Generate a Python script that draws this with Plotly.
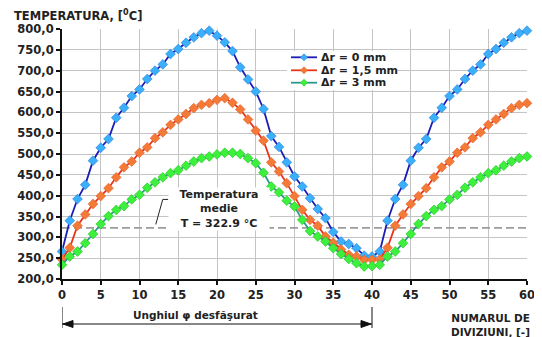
import plotly.graph_objects as go

divisions = list(range(0, 61))

rise_0 = [266, 340, 392, 426, 484, 515, 536, 587, 611, 639, 655, 680, 700, 715, 740, 752, 767, 780, 790, 796]
fall_0 = [784, 768, 747, 708, 679, 650, 608, 543, 517, 480, 446, 422, 394, 368, 346, 313, 290, 284, 274, 256, 254]
temp_0mm = rise_0 + fall_0 + rise_0

rise_15 = [247, 275, 328, 355, 380, 399, 418, 444, 468, 482, 503, 516, 538, 552, 570, 583, 596, 610, 618, 622]
fall_15 = [630, 634, 623, 607, 583, 556, 532, 480, 458, 430, 399, 366, 342, 328, 302, 287, 271, 258, 254, 246, 246]
temp_15mm = rise_15 + fall_15 + rise_15

rise_3 = [234, 254, 266, 286, 308, 332, 351, 366, 375, 391, 402, 419, 432, 444, 454, 461, 472, 482, 490, 494]
fall_3 = [499, 503, 503, 500, 490, 478, 455, 422, 408, 388, 374, 342, 315, 302, 290, 274, 260, 248, 238, 230, 231]
temp_3mm = rise_3 + fall_3 + rise_3

series_names = ["\u0394r = 0 mm", "\u0394r = 1,5 mm", "\u0394r = 3 mm"]
mean_temp = 322.9
mean_x = [0, 60]
x_ticks = list(range(0, 61, 5))
y_ticks = list(range(200, 801, 50))

FONT = "DejaVu Sans"
TXT = "#222222"

# plot area in pixels (page body has an 8px margin, so the figure is shifted by 8px)
PW, PH = 465, 250
ML, MT, MR, MB = 54, 21, 16, 58


def px_x(x):  # reference-page x pixel -> paper x
    return (x - 62) / PW


def px_y(y):  # reference-page y pixel -> paper y
    return (279 - y) / PH


fig = go.Figure()

# mean temperature dashed line
fig.add_trace(go.Scatter(
    x=mean_x, y=[mean_temp, mean_temp], mode="lines",
    line=dict(color="#9c9c9c", width=1.8, dash="8px,4px"),
    showlegend=False, hoverinfo="skip"))

styles = [
    ("#1c1cb4", "#3ab0fa", "#2a7ad8"),
    ("#e8341c", "#f47a38", "#e0602a"),
    ("#2a9a8c", "#3cf03c", "#22c022"),
]
for name, vals, (lc, mc, mlc) in zip(series_names, [temp_0mm, temp_15mm, temp_3mm], styles):
    fig.add_trace(go.Scatter(
        x=divisions, y=vals, name=name, mode="lines+markers",
        line=dict(color=lc, width=1.8),
        marker=dict(symbol="diamond", size=7.5, color=mc, line=dict(color=mlc, width=0.6)),
        cliponaxis=False, showlegend=False))

fig.update_layout(
    width=PW + ML + MR, height=PH + MT + MB,
    margin=dict(l=ML, r=MR, t=MT, b=MB, autoexpand=False),
    paper_bgcolor="white", plot_bgcolor="white",
    separators=",.",
    font=dict(family=FONT, size=11, color=TXT, weight="bold"),
    showlegend=False,
    xaxis=dict(range=[0, 60], tickvals=x_ticks, showgrid=True, gridcolor="#c4c4c4", gridwidth=1,
               showline=True, linecolor="#111111", linewidth=2, ticks="outside", ticklen=4,
               tickcolor="#111111", tickwidth=2, ticklabeloverflow="allow",
               tickfont=dict(family=FONT, size=11.5, color=TXT, weight="bold"),
               zeroline=False, fixedrange=True, automargin=False),
    yaxis=dict(range=[200, 800], tickvals=y_ticks, tickformat=".1f", showgrid=True,
               gridcolor="#c4c4c4", gridwidth=1,
               showline=True, linecolor="#111111", linewidth=2, ticks="outside", ticklen=4,
               tickcolor="#111111", tickwidth=2, ticklabeloverflow="allow",
               tickfont=dict(family=FONT, size=11.5, color=TXT, weight="bold"),
               zeroline=False, fixedrange=True, automargin=False),
)

annotations = []
shapes = []

# y-axis title
annotations.append(dict(xref="paper", yref="paper", x=px_x(12), y=px_y(16), xanchor="left", yanchor="middle",
                        text="TEMPERATURA, [<sup>0</sup>C]", showarrow=False,
                        font=dict(family=FONT, size=11.5, color=TXT, weight="bold")))

# legend (drawn by hand to match compact row spacing)
legend_rows = [57.3, 70.3, 82.7]
shapes.append(dict(type="rect", xref="paper", yref="paper", x0=px_x(287), x1=px_x(396),
                   y0=px_y(90), y1=px_y(51), fillcolor="white", line=dict(width=0), layer="above"))
for name, (lc, mc, mlc), ry in zip(series_names, styles, legend_rows):
    shapes.append(dict(type="line", xref="paper", yref="paper", x0=px_x(291), x1=px_x(317),
                       y0=px_y(ry), y1=px_y(ry), line=dict(color=lc, width=1.8), layer="above"))
    shapes.append(dict(type="path", xref="paper", yref="paper", xsizemode="pixel", ysizemode="pixel",
                       xanchor=px_x(304), yanchor=px_y(ry),
                       path="M 0 3.5 L 3.5 0 L 0 -3.5 L -3.5 0 Z",
                       fillcolor=mc, line=dict(color=mlc, width=0.6), layer="above"))
    annotations.append(dict(xref="paper", yref="paper", x=px_x(319), y=px_y(ry), xanchor="left",
                            yanchor="middle", text=name, showarrow=False,
                            font=dict(family=FONT, size=11, color=TXT, weight="bold")))

# mean temperature label
annotations.append(dict(xref="x", yref="y", x=20.2, y=368, xanchor="center", yanchor="middle",
                        text="Temperatura<br>medie<br>T = 322.9 \u00b0C", showarrow=False,
                        bgcolor="white", width=100, borderpad=0, align="center",
                        font=dict(family=FONT, size=11, color=TXT, weight="bold")))
shapes.append(dict(type="path", xref="x", yref="y", path="M 12.1 331 L 13.0 391 L 13.7 391",
                   line=dict(color=TXT, width=1)))

# x-axis title
annotations.append(dict(xref="paper", yref="paper", x=px_x(532), y=px_y(325), xanchor="right", yanchor="middle",
                        text="NUMARUL DE<br>DIVIZIUNI, [-]", showarrow=False, align="right",
                        font=dict(family=FONT, size=10.5, color=TXT, weight="bold")))

# bracket label
annotations.append(dict(xref="x", yref="paper", x=17.2, y=px_y(315), xanchor="center", yanchor="middle",
                        text="Unghiul \u03c6 desf\u0103\u015furat", showarrow=False,
                        font=dict(family=FONT, size=10.5, color=TXT, weight="bold")))

# bracket with arrows spanning divisions 0..40
arrow_y = px_y(324)
shapes += [
    dict(type="line", xref="x", yref="paper", x0=0, x1=0, y0=px_y(307), y1=px_y(328),
         line=dict(color="#111111", width=1)),
    dict(type="line", xref="x", yref="paper", x0=40, x1=40, y0=px_y(307), y1=px_y(328),
         line=dict(color="#111111", width=1)),
    dict(type="line", xref="x", yref="paper", x0=0, x1=40, y0=arrow_y, y1=arrow_y,
         line=dict(color="#111111", width=1)),
    dict(type="path", xref="x", yref="paper", xsizemode="pixel", ysizemode="pixel",
         xanchor=0, yanchor=arrow_y, path="M 1 0 L 11 3.5 L 11 -3.5 Z",
         fillcolor="#111111", line=dict(color="#111111", width=1)),
    dict(type="path", xref="x", yref="paper", xsizemode="pixel", ysizemode="pixel",
         xanchor=40, yanchor=arrow_y, path="M -1 0 L -11 3.5 L -11 -3.5 Z",
         fillcolor="#111111", line=dict(color="#111111", width=1)),
]

fig.update_layout(annotations=annotations, shapes=shapes)

fig.write_html("out.html")
